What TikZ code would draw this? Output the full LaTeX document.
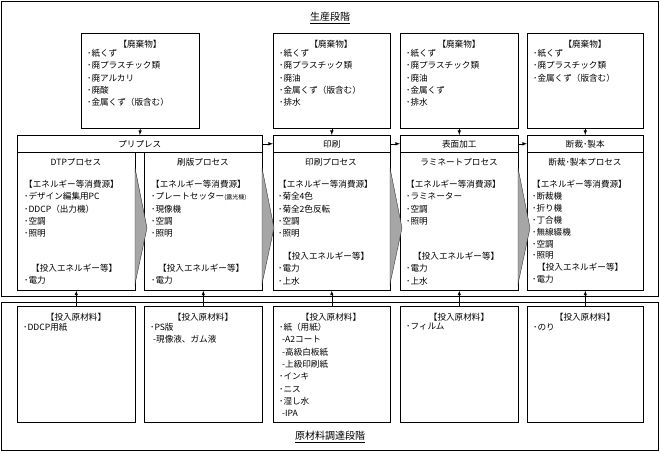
\documentclass[tikz,border=0pt]{standalone}
\usepackage{fontspec}
\setmainfont{Noto Sans CJK JP}
\begin{document}
\begin{tikzpicture}[x=1pt,y=-1pt,
  box/.style={draw,line width=0.6pt,inner sep=0,anchor=north west},
  frame/.style={draw,line width=0.8pt,inner sep=0,anchor=north west},
  txt/.style={inner sep=0,anchor=north west,align=left,font=\fontsize{8.6}{12.3}\selectfont},
  ttl/.style={inner sep=0,font=\fontsize{8.6}{12.3}\selectfont},
  arr/.style={-latex,line width=0.6pt},
  chev/.style={fill=gray!70,draw=gray!40!black,line width=0.4pt}]
\useasboundingbox (0,0) rectangle (660,452);
% frames
\node[frame,minimum width=657pt,minimum height=295pt] (top) at (1,1) {};
\node[frame,minimum width=657pt,minimum height=148pt] (bot) at (1,302) {};
\node[ttl,font=\fontsize{10}{12}\selectfont] (t1) at (330,18) {\underline{生産段階}};
\node[ttl,font=\fontsize{10}{12}\selectfont] (t2) at (330,437) {\underline{原材料調達段階}};
% waste boxes
\node[box,minimum width=118pt,minimum height=95pt] (w1) at (81,33) {};
\node[box,minimum width=117pt,minimum height=95pt] (w2) at (273,33) {};
\node[box,minimum width=118pt,minimum height=95pt] (w3) at (400,33) {};
\node[box,minimum width=116pt,minimum height=95pt] (w4) at (527,33) {};
\foreach \n/\x in {w1/140,w2/331,w3/459,w4/585}{\node[ttl] (\n t) at (\x,44) {【廃棄物】};}
\node[txt] (w1l) at (87,49) {･紙くず\\･廃プラスチック類\\･廃アルカリ\\･廃酸\\･金属くず（版含む）};
\node[txt] (w2l) at (279,49) {･紙くず\\･廃プラスチック類\\･廃油\\･金属くず（版含む）\\･排水};
\node[txt] (w3l) at (406,49) {･紙くず\\･廃プラスチック類\\･廃油\\･金属くず\\･排水};
\node[txt] (w4l) at (533,49) {･紙くず\\･廃プラスチック類\\･金属くず（版含む）};
% headers
\node[box,minimum width=245pt,minimum height=17pt] (h1) at (17,135) {};
\node[box,minimum width=117pt,minimum height=17pt] (h2) at (273,135) {};
\node[box,minimum width=118pt,minimum height=17pt] (h3) at (400,135) {};
\node[box,minimum width=116pt,minimum height=17pt] (h4) at (527,135) {};
\node[ttl] (h1t) at (h1) {プリプレス};
\node[ttl] (h2t) at (h2) {印刷};
\node[ttl] (h3t) at (h3) {表面加工};
\node[ttl] (h4t) at (h4) {断裁･製本};
% process boxes
\node[box,minimum width=118pt,minimum height=138pt] (p1) at (17,152) {};
\node[box,minimum width=118pt,minimum height=138pt] (p2) at (144,152) {};
\node[box,minimum width=117pt,minimum height=138pt] (p3) at (273,152) {};
\node[box,minimum width=118pt,minimum height=138pt] (p4) at (400,152) {};
\node[box,minimum width=116pt,minimum height=138pt] (p5) at (527,152) {};
\foreach \n/\x/\s in {p1/76/DTPプロセス,p2/203/刷版プロセス,p3/331/印刷プロセス,p4/459/ラミネートプロセス,p5/585/断裁･製本プロセス}{\node[ttl] (\n n) at (\x,162) {\s};}
\node[txt] (p1l) at (24,180) {【エネルギー等消費源】\\･デザイン編集用PC\\･DDCP（出力機）\\･空調\\･照明};
\node[txt] (p2l) at (151,180) {【エネルギー等消費源】\\･プレートセッター{\fontsize{6}{7}\selectfont (露光機)}\\･現像機\\･空調\\･照明};
\node[txt] (p3l) at (278,180) {【エネルギー等消費源】\\･菊全4色\\･菊全2色反転\\･空調\\･照明};
\node[txt] (p4l) at (406,180) {【エネルギー等消費源】\\･ラミネーター\\･空調\\･照明};
\node[txt,font=\fontsize{8.6}{11.9}\selectfont] (p5l) at (532,180) {【エネルギー等消費源】\\･断裁機\\･折り機\\･丁合機\\･無線綴機\\･空調\\･照明\\\hspace*{5pt}【投入エネルギー等】\\･電力};
\node[txt] (p1e) at (24,264) {\hspace*{7pt}【投入エネルギー等】\\･電力};
\node[txt] (p2e) at (151,264) {\hspace*{7pt}【投入エネルギー等】\\･電力};
\node[txt] (p3e) at (278,252) {\hspace*{5pt}【投入エネルギー等】\\･電力\\･上水};
\node[txt] (p4e) at (406,252) {\hspace*{7pt}【投入エネルギー等】\\･電力\\･上水};
% chevrons
\foreach \a in {135,262,390,518}{\fill[chev] (\a,168) -- (\a+12,228) -- (\a,284) -- cycle;}
% raw boxes
\node[box,minimum width=118pt,minimum height=116pt] (r1) at (17,306) {};
\node[box,minimum width=118pt,minimum height=116pt] (r2) at (144,306) {};
\node[box,minimum width=117pt,minimum height=116pt] (r3) at (273,306) {};
\node[box,minimum width=118pt,minimum height=116pt] (r4) at (400,306) {};
\node[box,minimum width=116pt,minimum height=116pt] (r5) at (527,306) {};
\foreach \n/\x in {r1/76,r2/203,r3/331,r4/459,r5/585}{\node[ttl] (\n t) at (\x,317) {【投入原材料】};}
\node[txt] (r1l) at (23,323) {･DDCP用紙};
\node[txt] (r2l) at (150,323) {･PS版\\\hspace*{3pt}-現像液、ガム液};
\node[txt] (r3l) at (279,323) {･紙（用紙）\\\hspace*{3pt}-A2コート\\\hspace*{3pt}-高級白板紙\\\hspace*{3pt}-上級印刷紙\\･インキ\\･ニス\\･湿し水\\\hspace*{3pt}-IPA};
\node[txt] (r4l) at (406,323) {･フィルム};
\node[txt] (r5l) at (533,323) {･のり};
% arrows
\draw[arr] (h1.east) -- (h2.west);
\draw[arr] (h2.east) -- (h3.west);
\draw[arr] (h3.east) -- (h4.west);
\draw[arr] (w1.south) -- (h1.north);
\draw[arr] (w2.south) -- (h2.north);
\draw[arr] (w3.south) -- (h3.north);
\draw[arr] (w4.south) -- (h4.north);
\foreach \i in {1,...,5}{\draw[arr] (r\i.north) -- (p\i.south);}
\end{tikzpicture}
\end{document}
